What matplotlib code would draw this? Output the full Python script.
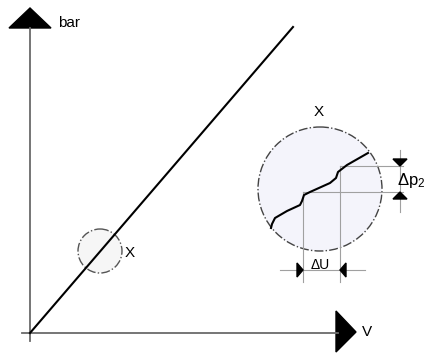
import matplotlib
matplotlib.use("Agg")
import matplotlib.pyplot as plt
from matplotlib.patches import Polygon, Ellipse
import numpy as np

plt.rcParams['font.family'] = ['Liberation Sans', 'DejaVu Sans']
plt.rcParams['mathtext.fontset'] = 'custom'
plt.rcParams['mathtext.rm'] = 'Liberation Sans'
plt.rcParams['mathtext.it'] = 'Liberation Sans'

# ---- diagram geometry (pixel space of the reference) ----
origin = [30, 333]
y_axis_top = 28
x_axis_right = 338
line_start = [30, 333]
line_end = [293, 27]

small_circle = [100, 251, 22]          # cx, cy, r
big_circle = [320, 189, 62]            # cx, cy, r

curve_x = [271, 272, 275, 287, 300, 302, 304, 310, 330, 336, 338, 347, 368]
curve_y = [228, 224, 218, 211, 205, 201, 195, 192, 183, 178, 172, 165, 153]

h_lines = [[303, 403, 192], [340, 403, 166]]   # x0, x1, y
v_lines = [[303, 192, 282], [340, 166, 282]]   # x, y0, y1

du_line = [280, 365, 270]
dp_line = [400, 150, 212]

labels = ["bar", "V", "X", "X", "ΔU", r"$\Delta\mathrm{p}_2$"]
label_pos = [[58, 23], [362, 332], [130, 253], [319, 112], [320, 265], [397, 181]]

fig = plt.figure(figsize=(4.28, 3.53), dpi=100)
ax = fig.add_axes([0, 0, 1, 1])
ax.set_xlim(0, 428)
ax.set_ylim(353, 0)
ax.axis('off')

axis_col = '#6a6a6a'
thin_col = '#a0a0a0'

# axes
ax.plot([origin[0], origin[0]], [origin[1] + 8, y_axis_top], color=axis_col, lw=1.3)
ax.plot([origin[0] - 8, x_axis_right], [origin[1], origin[1]], color=axis_col, lw=1.3)
ax.add_patch(Polygon([[9, 28], [51, 28], [30, 8]], closed=True, color='black'))
ax.add_patch(Polygon([[336, 311], [336, 352], [356, 332]], closed=True, color='black'))

# small circle
ax.add_patch(Ellipse((small_circle[0], small_circle[1]), 2 * small_circle[2], 2 * small_circle[2],
                     facecolor='#f6f6f6', edgecolor='#555555', lw=1.0, ls='-.', zorder=2))
# diagonal line
ax.plot([line_start[0], line_end[0]], [line_start[1], line_end[1]], color='black', lw=1.5, zorder=3)

# big circle
ax.add_patch(Ellipse((big_circle[0], big_circle[1]), 2 * big_circle[2], 2 * big_circle[2],
                     facecolor='#f4f4fb', edgecolor='#444444', lw=1.0, ls='-.', zorder=2))

for x0, x1, y in h_lines:
    ax.plot([x0, x1], [y, y], color=thin_col, lw=0.8, zorder=3)
for x, y0, y1 in v_lines:
    ax.plot([x, x], [y0, y1], color=thin_col, lw=0.8, zorder=3)

ax.plot(curve_x, curve_y, color='black', lw=1.5, zorder=4)

# delta U dimension
ax.plot([du_line[0], du_line[1]], [du_line[2], du_line[2]], color=thin_col, lw=0.8, zorder=3)
ax.add_patch(Polygon([[297, 263], [297, 277], [303, 270]], closed=True, color='black', zorder=4))
ax.add_patch(Polygon([[346, 263], [346, 277], [340, 270]], closed=True, color='black', zorder=4))

# delta p dimension
ax.plot([dp_line[0], dp_line[0]], [dp_line[1], dp_line[2]], color=thin_col, lw=0.8, zorder=3)
ax.add_patch(Polygon([[393, 159], [407, 159], [400, 166]], closed=True, color='black', zorder=4))
ax.add_patch(Polygon([[393, 199], [407, 199], [400, 192]], closed=True, color='black', zorder=4))

# labels
ax.text(label_pos[0][0], label_pos[0][1], labels[0], fontsize=11, ha='left', va='center')
ax.text(label_pos[1][0], label_pos[1][1], labels[1], fontsize=11, ha='left', va='center')
ax.text(label_pos[2][0], label_pos[2][1], labels[2], fontsize=11, ha='center', va='center')
ax.text(label_pos[3][0], label_pos[3][1], labels[3], fontsize=11, ha='center', va='center')
ax.text(label_pos[4][0], label_pos[4][1], labels[4], fontsize=10, ha='center', va='center')
ax.text(label_pos[5][0], label_pos[5][1], labels[5], fontsize=12, ha='left', va='center')

fig.savefig('out.png', dpi=100)
